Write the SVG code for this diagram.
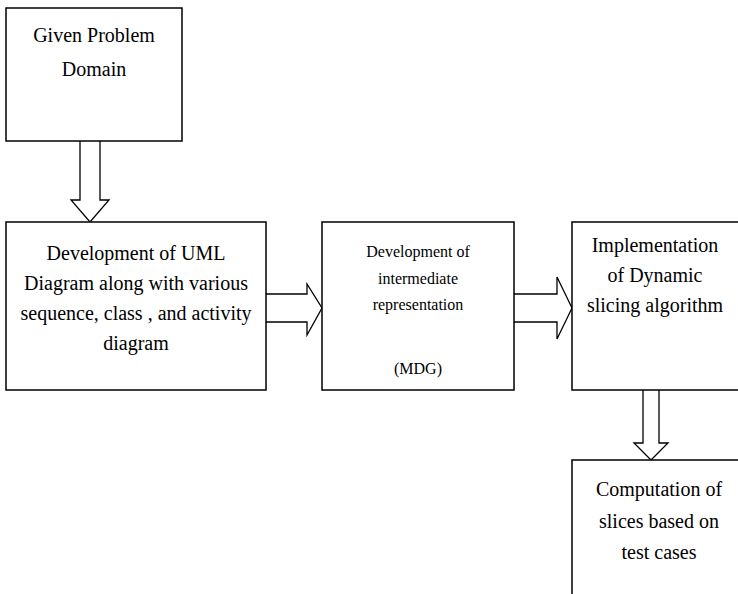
<svg xmlns="http://www.w3.org/2000/svg" width="738" height="594" viewBox="0 0 738 594">
  <style>
    .box { fill: #ffffff; stroke: #000000; stroke-width: 1.5; }
    .arrow { fill: #ffffff; stroke: #000000; stroke-width: 1.3; stroke-linejoin: miter; }
    .lbl { font-family: "Liberation Serif", "Times New Roman", serif; font-size: 20px; fill: #000000; text-anchor: middle; }
    .sm { font-size: 16px; }
  </style>
  <rect width="738" height="594" fill="#ffffff"/>

  <!-- block arrows between the stages -->
  <g id="connectors">
    <polyline class="arrow" points="80,141 80,200 71,200 90,222 109,200 100,200 100,141"/>
    <polyline class="arrow" points="266,294 307,294 307,284 322,308 307,335 307,322 266,322"/>
    <polyline class="arrow" points="514,294 557,294 557,277 572,308 557,339 557,322 514,322"/>
    <polyline class="arrow" points="643,390 643,443 634,443 651,460 668,443 659,443 659,390"/>
  </g>

  <g id="problem-domain">
    <rect class="box" x="6" y="8" width="176" height="133"/>
    <text class="lbl" x="94" y="42">Given Problem</text>
    <text class="lbl" x="94" y="76">Domain</text>
  </g>

  <g id="uml-development">
    <rect class="box" x="6" y="222" width="260" height="168"/>
    <text class="lbl" x="136" y="260">Development of UML</text>
    <text class="lbl" x="136" y="290">Diagram along with various</text>
    <text class="lbl" x="136" y="320">sequence, class , and activity</text>
    <text class="lbl" x="136" y="350">diagram</text>
  </g>

  <g id="intermediate-representation">
    <rect class="box" x="322" y="222" width="192" height="168"/>
    <text class="lbl sm" x="418" y="257">Development of</text>
    <text class="lbl sm" x="418" y="284">intermediate</text>
    <text class="lbl sm" x="418" y="310">representation</text>
    <text class="lbl sm" x="418" y="374">(MDG)</text>
  </g>

  <g id="dynamic-slicing">
    <rect class="box" x="572" y="222" width="170" height="168"/>
    <text class="lbl" x="655" y="252">Implementation</text>
    <text class="lbl" x="655" y="282">of Dynamic</text>
    <text class="lbl" x="655" y="312">slicing algorithm</text>
  </g>

  <g id="slice-computation">
    <rect class="box" x="572" y="460" width="176" height="150"/>
    <text class="lbl" x="659" y="496">Computation of</text>
    <text class="lbl" x="659" y="528">slices based on</text>
    <text class="lbl" x="659" y="559">test cases</text>
  </g>
</svg>
